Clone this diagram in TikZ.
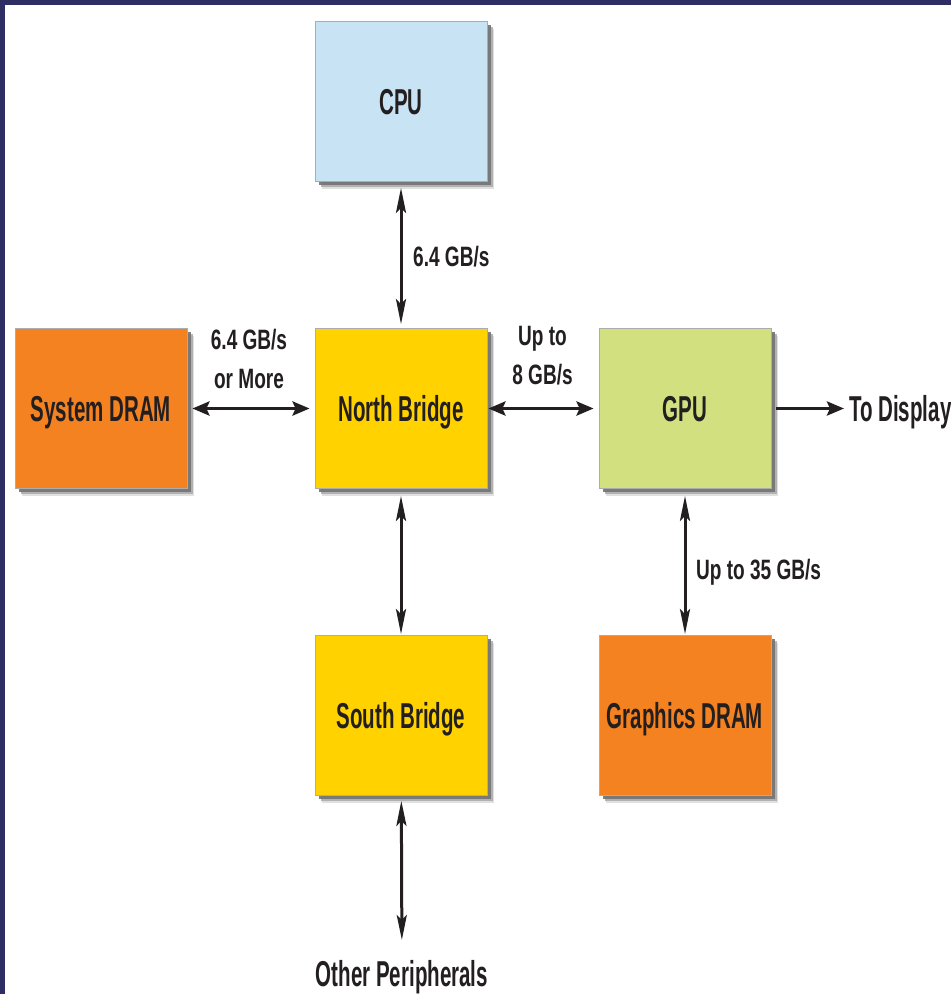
\documentclass[tikz,border=0pt]{standalone}
\usepackage{fontspec}
\usetikzlibrary{arrows.meta,shadows}
\newfontfamily\boxfont[FakeStretch=0.57]{Liberation Sans Bold}
\newfontfamily\edgefont[FakeStretch=0.68]{Liberation Sans Bold}
\definecolor{framec}{HTML}{2F2E64}
\definecolor{ink}{HTML}{231F20}
\definecolor{cpuc}{HTML}{C7E3F4}
\definecolor{yell}{HTML}{FFD200}
\definecolor{orng}{HTML}{F58220}
\definecolor{gpuc}{HTML}{D3E07F}
\tikzset{
  box/.style={draw=gray!65, line width=0.8pt, minimum width=172pt, minimum height=160pt,
    inner sep=0pt, text height=25.8pt, text depth=0pt, text=ink,
    font=\boxfont\fontsize{36}{40}\selectfont,
    drop shadow={shadow xshift=7pt, shadow yshift=-7pt, fill=black!20, opacity=0.6},
    drop shadow={shadow xshift=5.5pt, shadow yshift=-5.5pt, fill=black!35, opacity=0.8},
    drop shadow={shadow xshift=3.5pt, shadow yshift=-3.5pt, fill=black!55, opacity=0.9}},
  boxlbl/.style={inner sep=0pt, text height=25.8pt, text depth=0pt, text=ink,
    font=\boxfont\fontsize{36}{40}\selectfont},
  elbl/.style={inner sep=0pt, text=ink, font=\edgefont\fontsize{28}{39}\selectfont},
  harrow/.style={draw=ink, line width=3.5pt,
    {Stealth[length=17pt,width=14pt,inset=3pt]}-{Stealth[length=17pt,width=14pt,inset=3pt]}},
  harrowone/.style={draw=ink, line width=3.5pt, -{Stealth[length=17pt,width=14pt,inset=3pt]}},
  varrow/.style={draw=ink, line width=3pt,
    {Stealth[length=25pt,width=10pt,inset=5pt]}-{Stealth[length=25pt,width=10pt,inset=5pt]}}
}
\begin{document}
\begin{tikzpicture}[x=1pt,y=-1pt]
\useasboundingbox (0,0) rectangle (951,994);
\fill[white] (0,0) rectangle (951,994);
\fill[framec] (0,0) rectangle (951,5);
\fill[framec] (0,0) rectangle (5,994);

\node[box, fill=cpuc] (cpu) at (401,101.5) {CPU};
\node[box, fill=orng] (sdram) at (101,408.5) {System DRAM};
\node[box, fill=yell] (nb) at (401,408.5) {North Bridge};
\node[box, fill=gpuc] (gpu) at (685,408.5) {GPU};
\node[box, fill=yell] (sb) at (401,715.5) {South Bridge};
\node[box, fill=orng] (gdram) at (685,715.5) {Graphics DRAM};

\node[boxlbl, anchor=west] (disp) at (849,408.5) {To Display};
\node[boxlbl, anchor=base] (oth) at (402,986) {Other Peripherals};

\draw[varrow, shorten <=6pt, shorten >=4pt] (cpu) -- (nb);
\draw[harrow, shorten <=5pt, shorten >=5pt] (sdram) -- (nb);
\draw[harrow, shorten <=1pt, shorten >=5pt] (nb) -- (gpu);
\draw[harrowone, shorten <=5pt, shorten >=5pt] (gpu) -- (disp);
\draw[varrow, shorten <=7pt, shorten >=1pt] (gpu) -- (gdram);
\draw[varrow, shorten <=7pt, shorten >=1pt] (nb) -- (sb);
\draw[varrow, shorten <=5pt, shorten >=20pt] (sb) -- (oth);

\node[elbl, anchor=base west] (l1) at (413,266) {6.4 GB/s};
\node[elbl, anchor=north, align=center] (l2) at (249,329) {6.4 GB/s\\or More};
\node[elbl, anchor=north, align=center] (l3) at (542.5,326) {Up to\\8 GB/s};
\node[elbl, anchor=base west] (l4) at (696,579) {Up to 35 GB/s};
\end{tikzpicture}
\end{document}
